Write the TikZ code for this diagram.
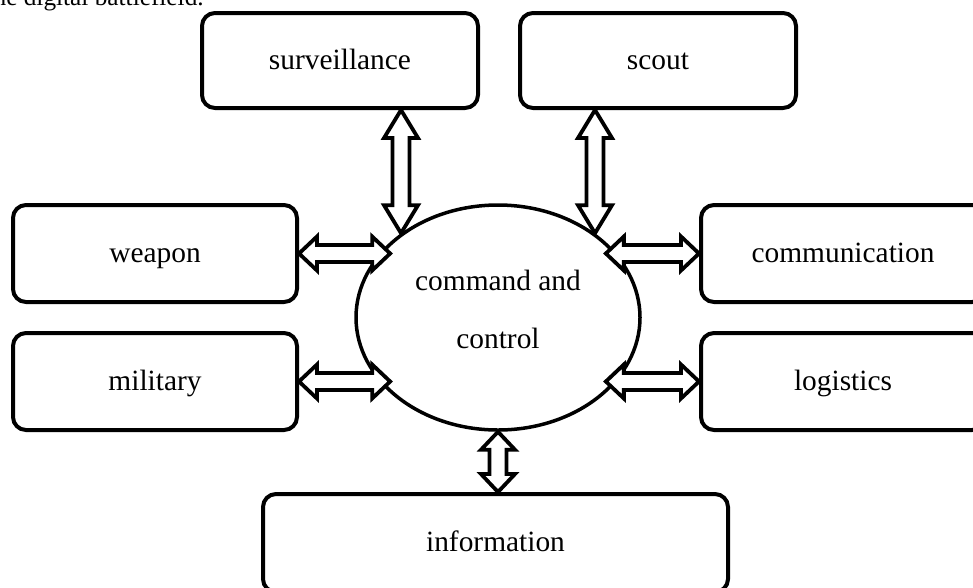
\documentclass[tikz,border=0pt]{standalone}
\usepackage{fontspec}
\setmainfont{Liberation Serif}
\usetikzlibrary{calc,shapes.geometric}

\begin{document}
\begin{tikzpicture}[x=1pt,y=-1pt,line width=4pt,
	font=\fontsize{29.4pt}{35pt}\selectfont,
	unit/.style={draw,rounded corners=13pt,minimum width=284pt,minimum height=97pt,inner sep=0pt,
		text height=21pt,text depth=4pt},
	twoway/.style={draw,fill=white,line width=3.8pt,line join=miter}]
\useasboundingbox (0,0) rectangle (973,587);

\node[anchor=base east,font=\fontsize{25.3pt}{30pt}\selectfont] (cap) at (209,5) {the digital battlefield.};

\node[unit,minimum width=276pt,minimum height=95pt] (surv) at (340,60.5) {surveillance};
\node[unit,minimum width=276pt,minimum height=95pt] (scout) at (658,60.5) {scout};
\node[unit] (weapon) at (155,253.5) {weapon};
\node[unit] (comm) at (843,253.5) {communication};
\node[unit] (mil) at (155,381.5) {military};
\node[unit] (logi) at (843,381.5) {logistics};
\node[unit,minimum width=465pt,minimum height=98pt] (info) at (495.5,543) {information};
\node[draw,ellipse,line width=3.5pt,minimum width=284pt,minimum height=225pt,inner sep=0pt,
	align=center,font=\fontsize{29.4pt}{58pt}\selectfont] (cc) at (498,317.5) {command and\\control\strut};

\coordinate (s1) at (cc.139 |- surv.south); \coordinate (s2) at (cc.139);
\coordinate (t1) at (cc.41 |- scout.south); \coordinate (t2) at (cc.41);
\coordinate (w1) at (weapon.east); \coordinate (w2) at (weapon.east -| cc.145);
\coordinate (c1) at (comm.west); \coordinate (c2) at (comm.west -| cc.35);
\coordinate (m1) at (mil.east); \coordinate (m2) at (mil.east -| cc.215);
\coordinate (l1) at (logi.west); \coordinate (l2) at (logi.west -| cc.-35);
\coordinate (i1) at (cc.south); \coordinate (i2) at (cc.south |- info.north);

\foreach \ta/\tb/\hd in {s1/s2/28,t1/t2/28,w1/w2/18,c1/c2/18,m1/m2/18,l1/l2/18,i1/i2/18}{
	\draw[twoway] (\ta)
		-- ($(\ta)!\hd pt!(\tb)!17pt!90:(\tb)$) -- ($(\ta)!\hd pt!(\tb)!8.5pt!90:(\tb)$)
		-- ($(\tb)!\hd pt!(\ta)!8.5pt!-90:(\ta)$) -- ($(\tb)!\hd pt!(\ta)!17pt!-90:(\ta)$)
		-- (\tb)
		-- ($(\tb)!\hd pt!(\ta)!17pt!90:(\ta)$) -- ($(\tb)!\hd pt!(\ta)!8.5pt!90:(\ta)$)
		-- ($(\ta)!\hd pt!(\tb)!8.5pt!-90:(\tb)$) -- ($(\ta)!\hd pt!(\tb)!17pt!-90:(\tb)$)
		-- cycle;
}

\end{tikzpicture}
\end{document}
